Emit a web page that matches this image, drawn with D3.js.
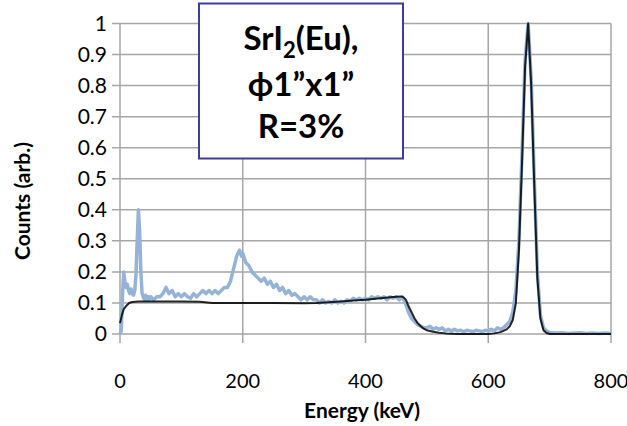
<!DOCTYPE html>
<html><head><meta charset="utf-8">
<script src="https://cdn.jsdelivr.net/npm/d3@7/dist/d3.min.js"></script>
<style>body{margin:0;background:#fff}svg{display:block}</style>
</head><body>
<svg id="c" width="627" height="426"></svg>
<script>
const xTicks = [0, 200, 400, 600, 800];
const yTicks = [0, 0.1, 0.2, 0.3, 0.4, 0.5, 0.6, 0.7, 0.8, 0.9, 1];
const xTitle = "Energy (keV)";
const yTitle = "Counts (arb.)";

// measured spectrum (light blue)
const measEnergy = [0,2,4,6,8,10,12,14,16,18,20,22,24,26,28,30,32,34,36,38,40,42,44,46,48,50,
  55,60,65,70,75,80,85,90,95,100,105,110,115,120,125,130,135,140,145,150,155,160,165,170,175,180,185,190,192,195,198,200,
  205,210,215,220,225,230,235,240,245,250,255,260,265,270,275,280,285,290,295,300,
  305,310,315,320,325,330,335,340,345,350,355,360,365,370,375,380,385,390,395,400,
  405,410,415,420,425,430,435,440,445,450,455,460,465,470,475,480,485,490,495,500,
  505,510,515,520,525,530,535,540,545,550,555,560,565,570,575,580,585,590,595,600,
  605,610,615,620,625,630,635,640,645,650,655,660,665,670,675,680,685,690,695,700,
  710,720,730,740,750,760,770,780,790,800];
const measCounts = [0.00,0.01,0.12,0.20,0.17,0.15,0.16,0.14,0.13,0.145,0.13,0.125,0.14,0.19,0.30,0.40,0.33,0.20,0.13,0.12,0.11,0.125,0.11,0.12,0.11,0.12,
  0.11,0.12,0.12,0.13,0.15,0.13,0.14,0.12,0.13,0.12,0.13,0.12,0.115,0.13,0.12,0.13,0.14,0.13,0.14,0.13,0.14,0.13,0.14,0.15,0.15,0.17,0.21,0.25,0.26,0.27,0.25,0.26,
  0.23,0.22,0.20,0.19,0.18,0.17,0.18,0.16,0.17,0.15,0.16,0.14,0.15,0.13,0.14,0.125,0.13,0.12,0.11,0.12,
  0.11,0.12,0.11,0.11,0.10,0.11,0.10,0.105,0.10,0.11,0.10,0.105,0.10,0.11,0.105,0.115,0.11,0.115,0.11,0.115,
  0.11,0.12,0.115,0.12,0.115,0.12,0.11,0.12,0.115,0.12,0.11,0.12,0.10,0.07,0.05,0.04,0.03,0.025,0.02,0.02,
  0.025,0.015,0.02,0.015,0.02,0.01,0.015,0.01,0.015,0.01,0.012,0.008,0.012,0.01,0.008,0.012,0.01,0.008,0.012,0.01,
  0.015,0.01,0.02,0.015,0.02,0.03,0.04,0.07,0.14,0.30,0.58,0.88,1.00,0.82,0.50,0.20,0.06,0.02,0.01,0.005,
  0.003,0.004,0.002,0.003,0.004,0.002,0.003,0.002,0.003,0.002];

// fitted response (black)
const fitEnergy = [0,3,6,10,15,20,30,50,100,130,150,200,250,300,320,340,360,380,400,420,440,450,458,462,466,470,475,480,485,490,495,500,510,520,530,540,550,600,610,620,630,635,640,645,650,655,660,665,670,675,680,685,690,695,700,800];
const fitCounts = [0.035,0.06,0.08,0.09,0.10,0.103,0.105,0.105,0.105,0.104,0.10,0.10,0.10,0.099,0.10,0.102,0.105,0.108,0.11,0.114,0.118,0.12,0.121,0.118,0.11,0.09,0.07,0.05,0.035,0.025,0.017,0.012,0.007,0.004,0.002,0.001,0,0,0.002,0.006,0.015,0.025,0.045,0.10,0.27,0.55,0.86,1.00,0.80,0.48,0.18,0.05,0.012,0.003,0,0];

const boxLines = ["ϕ1”x1”", "R=3%"];

const svg = d3.select("#c");
const x = d3.scaleLinear().domain([0, 800]).range([120, 611]);
const y = d3.scaleLinear().domain([0, 1]).range([334, 23.5]);

// gridlines + ticks
const g = svg.append("g");
g.selectAll(".hg").data(yTicks).join("line")
  .attr("x1", 112).attr("x2", 611)
  .attr("y1", d => y(d)).attr("y2", d => y(d))
  .attr("stroke", "#a6a6a6").attr("stroke-width", 1.5);
g.selectAll(".vg").data(xTicks).join("line")
  .attr("x1", d => x(d)).attr("x2", d => x(d))
  .attr("y1", y(1)).attr("y2", 343)
  .attr("stroke", "#a6a6a6").attr("stroke-width", 1.5);

// tick labels
svg.selectAll(".yl").data(yTicks).join("text")
  .attr("x", 107).attr("y", d => y(d)).attr("dy", "0.35em")
  .attr("text-anchor", "end")
  .attr("font-family", "Lato, sans-serif").attr("font-size", 21).attr("fill", "#000")
  .text(d => d3.format("")(d));
svg.selectAll(".xl").data(xTicks).join("text")
  .attr("x", d => x(d)).attr("y", 388)
  .attr("text-anchor", "middle")
  .attr("font-family", "Lato, sans-serif").attr("font-size", 20).attr("fill", "#000")
  .text(d => d);

svg.append("text").attr("x", 362).attr("y", 418).attr("text-anchor", "middle")
  .attr("font-family", "Lato, sans-serif").attr("font-weight", "bold").attr("font-size", 21)
  .text(xTitle);
svg.append("text").attr("transform", "translate(30,201) rotate(-90)").attr("text-anchor", "middle")
  .attr("font-family", "Lato, sans-serif").attr("font-weight", "bold").attr("font-size", 21)
  .text(yTitle);

// series
const line = d3.line().x(d => x(d[0])).y(d => y(d[1]));
const meas = measEnergy.map((e, i) => [e, measCounts[i]]);
const fit = fitEnergy.map((e, i) => [e, fitCounts[i]]);
svg.append("path").attr("d", line(meas)).attr("fill", "none")
  .attr("stroke", "#95b3d7").attr("stroke-width", 3.5).attr("stroke-linejoin", "round");
svg.append("path").attr("d", line(fit)).attr("fill", "none")
  .attr("stroke", "#000").attr("stroke-opacity", 0.85).attr("stroke-width", 2).attr("stroke-linejoin", "round");

// text box
svg.append("rect").attr("x", 199).attr("y", 3.5).attr("width", 204).attr("height", 155)
  .attr("fill", "#fff").attr("stroke", "#3d3d9e").attr("stroke-width", 2);
const t1 = svg.append("text").attr("x", 301).attr("y", 50).attr("text-anchor", "middle")
  .attr("font-family", "Lato, sans-serif").attr("font-weight", "bold").attr("font-size", 33);
t1.append("tspan").text("SrI");
t1.append("tspan").attr("font-size", 22).attr("dy", 8).text("2");
t1.append("tspan").attr("dy", -8).text("(Eu),");
svg.selectAll(".bl").data(boxLines).join("text")
  .attr("x", 301).attr("y", (d, i) => 96 + i * 42).attr("text-anchor", "middle")
  .attr("font-family", "Lato, sans-serif").attr("font-weight", "bold").attr("font-size", 33)
  .text(d => d);
</script>
</body></html>
